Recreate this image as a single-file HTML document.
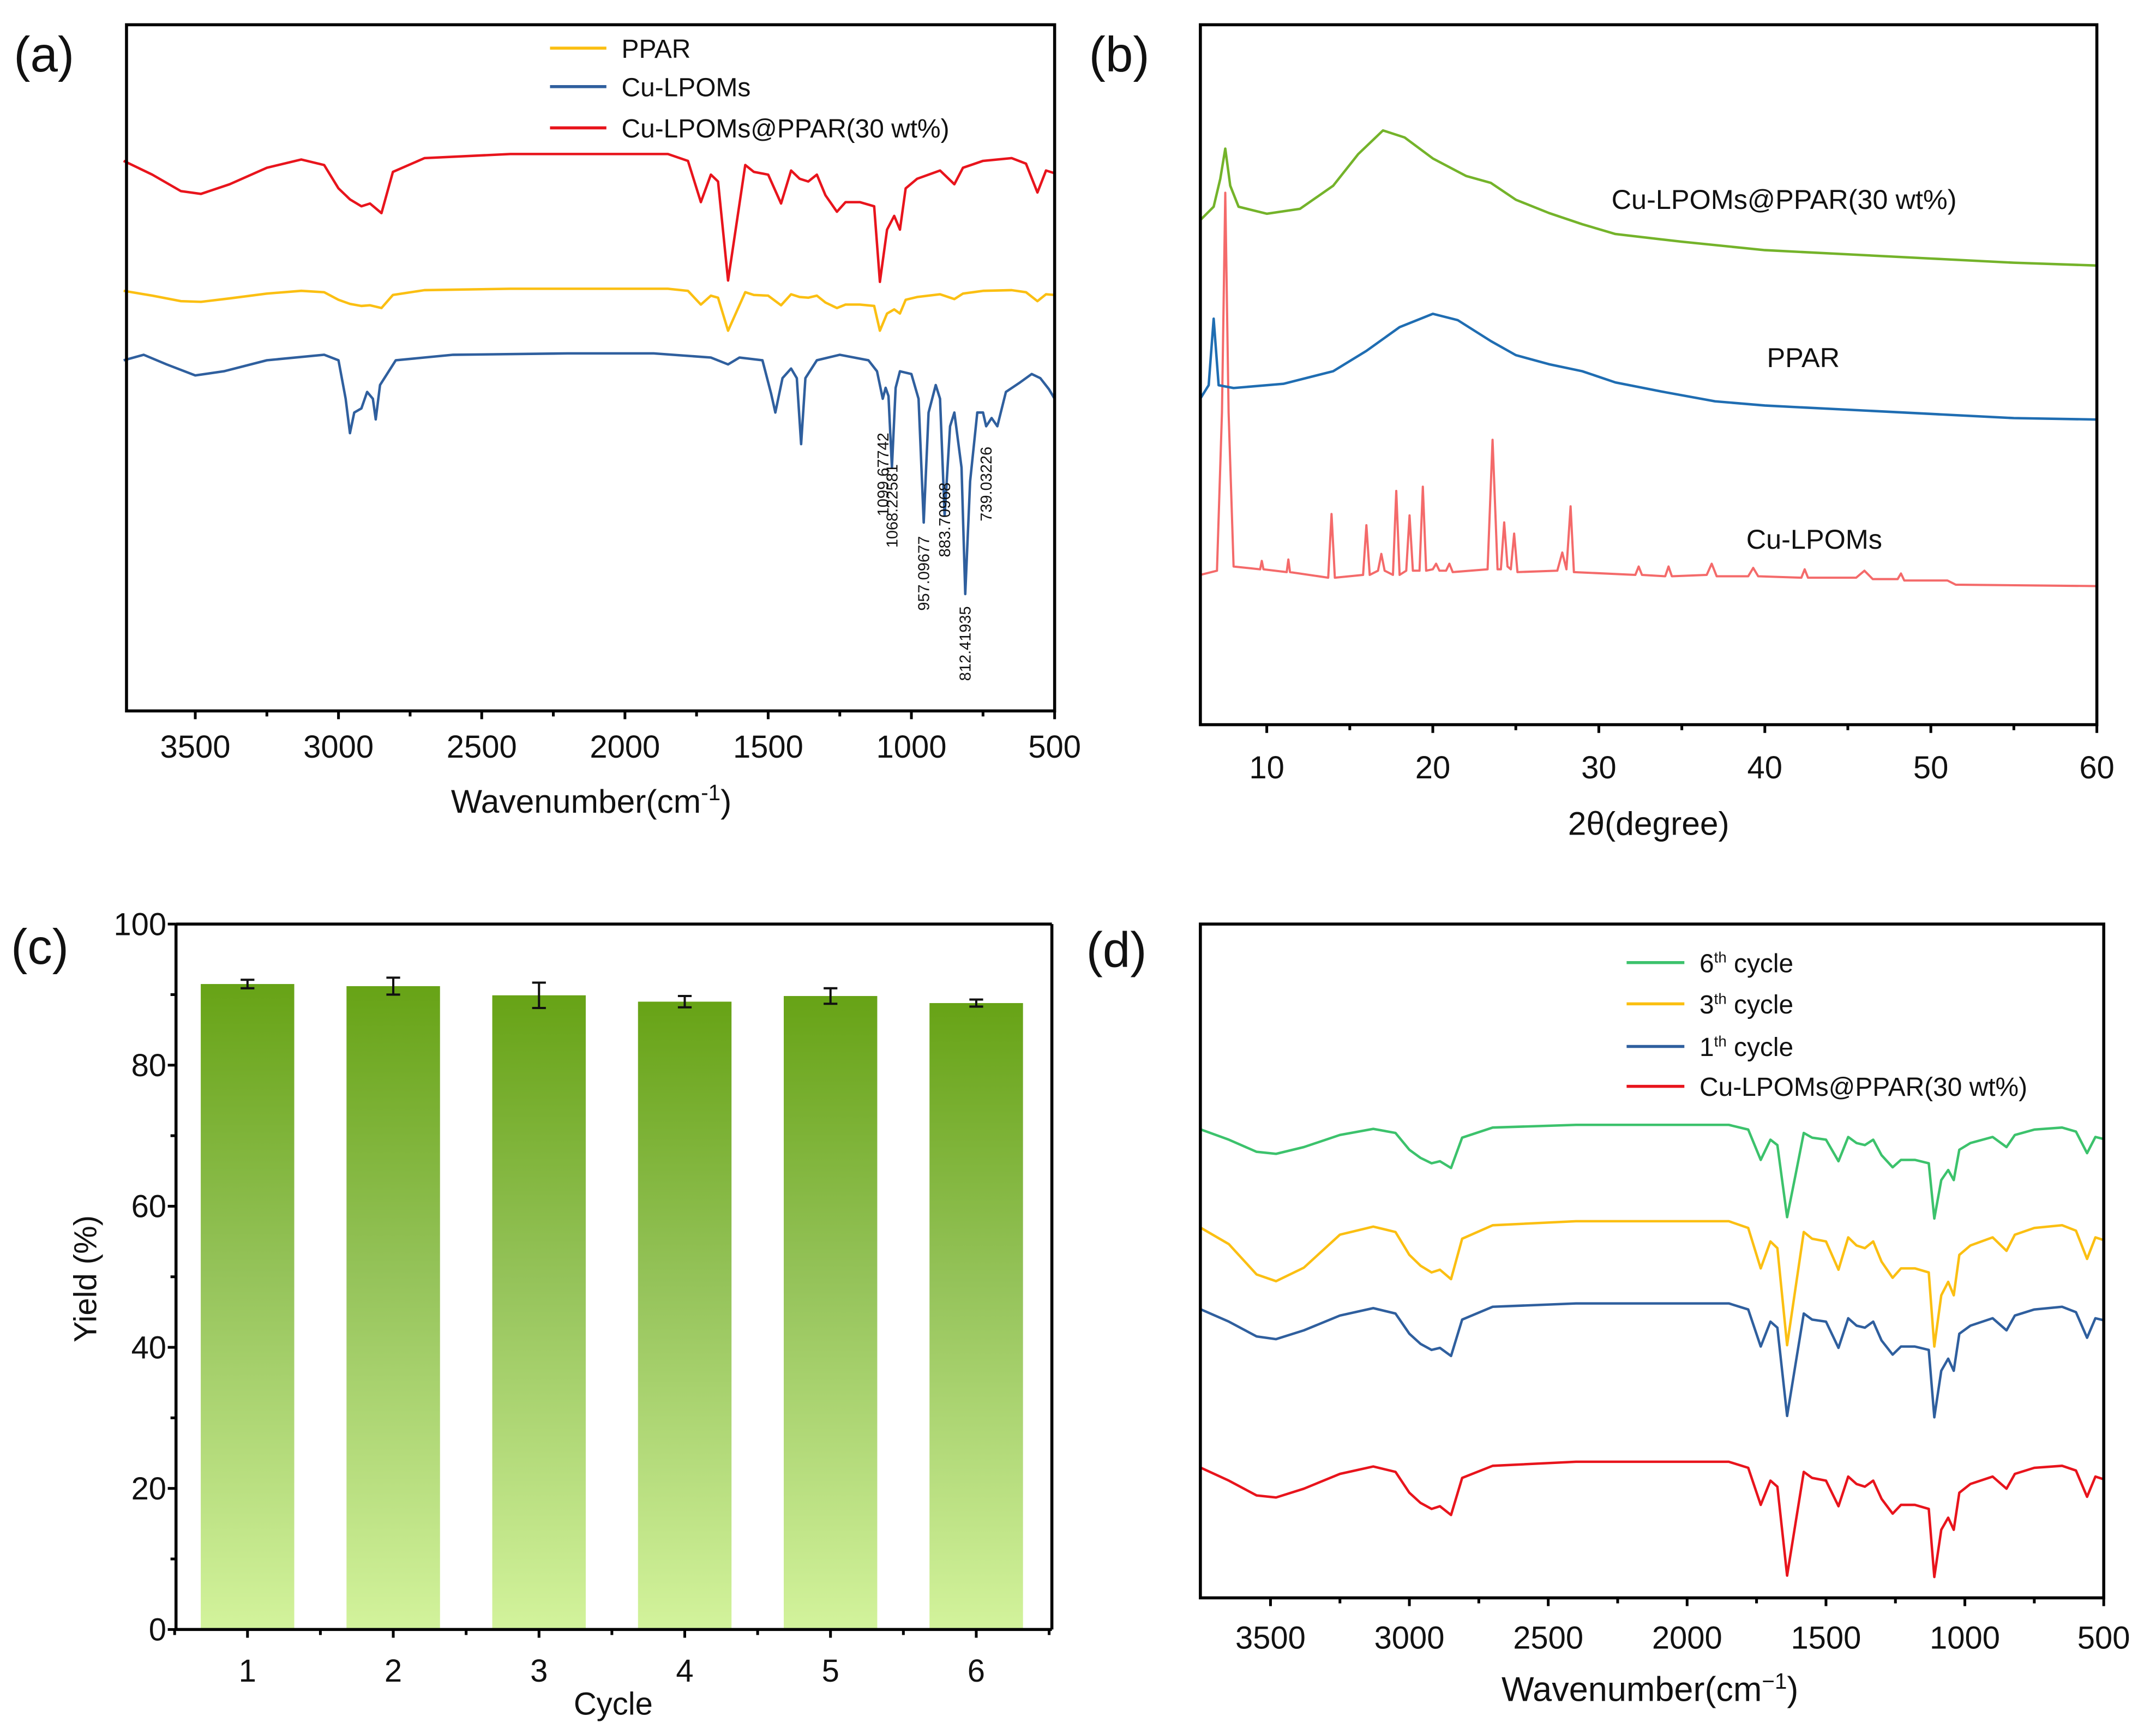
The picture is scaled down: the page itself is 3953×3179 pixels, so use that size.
<!DOCTYPE html>
<html><head><meta charset="utf-8"><style>
html,body{margin:0;padding:0;background:#fff;}
svg{display:block;font-family:"Liberation Sans",Arial,sans-serif;}
</style></head><body>
<svg id="fig" width="3953" height="3179" viewBox="0 0 1568 1261" xmlns="http://www.w3.org/2000/svg">
<rect x="0" y="0" width="1568" height="1261" fill="#fff"/>
<defs>
<linearGradient id="barGrad" x1="0" y1="0" x2="0" y2="1">
<stop offset="0" stop-color="#67a316"/><stop offset="0.45" stop-color="#95c35a"/><stop offset="1" stop-color="#d3f39c"/>
</linearGradient>
</defs>
</svg>
<script>
// ---------- Panel (a) data ----------
const irGrid = [3750,3650,3550,3480,3380,3250,3130,3050,3000,2960,2920,2890,2850,2810,2700,2400,2100,1850,1780,1735,1700,1675,1640,1610,1580,1550,1500,1455,1420,1390,1360,1330,1300,1260,1230,1180,1130,1110,1085,1060,1040,1020,980,900,850,820,750,650,600,560,530,500];
const aRedVals = [80,78,75.6,75.2,76.6,79,80.2,79.4,76,74.4,73.4,73.8,72.4,78.4,80.4,81,81,81,80,74,78,77,62.6,71,79.4,78.4,78,73.8,78.6,77.4,77,78,75,72.6,74,74,73.4,62.4,70,72,70,76,77.4,78.6,76.6,79,80,80.4,79.6,75.4,78.6,78.2];
const aYellowVals = [61.1,60.4,59.6,59.5,60,60.7,61.1,60.9,59.8,59.2,58.9,59,58.6,60.5,61.2,61.4,61.4,61.4,61.1,59.1,60.4,60.1,55.3,58.1,60.9,60.5,60.4,59,60.6,60.2,60.1,60.4,59.4,58.6,59.1,59.1,58.9,55.3,57.8,58.4,57.8,59.8,60.2,60.6,59.9,60.7,61.1,61.2,60.9,59.6,60.6,60.5];
const aBlueWn = [3750,3680,3600,3500,3400,3250,3050,3000,2975,2960,2945,2920,2900,2880,2870,2855,2800,2600,2200,1900,1700,1640,1600,1520,1490,1475,1450,1420,1400,1385,1370,1330,1250,1150,1120,1100,1090,1080,1068,1055,1040,1000,975,957,940,915,900,884,865,850,825,812,795,770,750,739,720,700,670,620,580,550,520,500];
const aBlueVals = [51,51.8,50.4,48.8,49.4,51,51.8,51,45.4,40.4,43.4,44,46.4,45.4,42.4,47.4,51,51.8,52,52,51.4,50.4,51.4,51,46.2,43.4,48.4,49.8,48.4,38.8,48.4,51,51.8,51,49.4,45.4,47,45.8,35.4,47,49.4,49,45.4,27.4,43.4,47.4,45.4,28.4,41.4,43.4,35.4,17,33.4,43.4,43.4,41.4,42.6,41.4,46.4,47.8,49,48.4,46.8,45.4];
const aAnnotWn = [1099.67742,1068.22581,957.09677,883.70968,812.41935,739.03226];
const aAnnotCenterVal = [34.4,29.8,20,27.8,9.8,33];
const aXTicks = [3500,3000,2500,2000,1500,1000,500];
// ---------- Panel (b) data ----------
const bGreenX = [6,6.8,7.2,7.5,7.8,8.3,10,12,14,15.5,17,18.3,20,22,23.5,25,27,29,31,35,40,45,50,55,60];
const bGreenV = [72.1,74,78,82.3,77,74,73,73.7,77,81.5,84.9,83.9,80.9,78.4,77.4,75,73.1,71.5,70.1,69,67.8,67.2,66.6,66,65.6];
const bBlueX = [6,6.5,6.8,7.1,8,11,14,16,18,20,21.5,23.5,25,27,29,31,34,37,40,45,50,55,60];
const bBlueV = [46.6,48.5,58,48.5,48.1,48.7,50.5,53.4,56.8,58.7,57.8,54.8,52.8,51.5,50.5,48.9,47.5,46.2,45.6,45,44.4,43.8,43.6];
const bRedX = [6,7.0,7.3,7.5,7.7,8,9.6,9.7,9.8,11.2,11.3,11.4,13.7,13.9,14.1,15.8,16,16.2,16.7,16.9,17.1,17.6,17.8,18,18.4,18.6,18.8,19.2,19.4,19.6,20,20.2,20.4,20.8,21,21.2,23.3,23.6,23.9,24.1,24.3,24.5,24.7,24.9,25.1,27.5,27.8,28.05,28.3,28.5,32.2,32.4,32.6,34,34.2,34.4,36.5,36.8,37.1,39,39.3,39.6,42.2,42.4,42.6,45.5,46,46.5,48,48.2,48.4,51,51.5,60];
const bRedV = [21.4,22,44.6,76,44.6,22.6,22.2,23.4,22.2,21.8,23.6,21.8,21,30.1,21,21.4,28.5,21.4,22,24.4,22,21.4,33.4,21.4,22,29.9,22,22,34,22,22.2,23,22,22,23,21.8,22.2,40.7,22.2,22.2,28.9,22.6,22.2,27.3,21.8,22,24.6,22.2,31.2,21.8,21.4,22.6,21.4,21.2,22.6,21.2,21.4,23,21.2,21.2,22.4,21.2,21,22.2,21,21,22,20.8,20.8,21.6,20.6,20.6,20,19.8];
const bXTicks = [10,20,30,40,50,60];
// ---------- Panel (c) data ----------
const cCycles = [1,2,3,4,5,6];
const cYield = [91.5,91.2,89.9,89.0,89.8,88.8];
const cErr = [0.6,1.2,1.8,0.8,1.1,0.5];
const cYTicks = [0,20,40,60,80,100];
// ---------- Panel (d) data ----------
const dGreenVals = [69.5,68,66.2,65.9,66.9,68.7,69.6,69,66.5,65.3,64.5,64.8,63.8,68.3,69.8,70.2,70.2,70.2,69.5,65,68,67.2,56.5,62.7,69,68.3,68,64.8,68.4,67.5,67.2,68,65.7,63.9,65,65,64.5,56.3,62,63.5,62,66.5,67.5,68.4,66.9,68.7,69.5,69.8,69.2,66,68.4,68.1];
const dYellowVals = [54.9,52.5,48,47,49,53.9,55.1,54.3,50.9,49.3,48.3,48.7,47.3,53.3,55.3,55.9,55.9,55.9,54.9,48.9,52.9,51.9,37.5,45.9,54.3,53.3,52.9,48.7,53.5,52.3,51.9,52.9,49.9,47.5,48.9,48.9,48.3,37.3,44.9,46.9,44.9,50.9,52.3,53.5,51.5,53.9,54.9,55.3,54.5,50.3,53.5,53.1];
const dBlueVals = [42.8,41,38.8,38.4,39.7,41.9,43,42.2,39.2,37.7,36.8,37.1,35.9,41.3,43.2,43.7,43.7,43.7,42.8,37.3,41,40.1,27,34.6,42.2,41.3,41,37.1,41.5,40.4,40.1,41,38.2,36.1,37.3,37.3,36.8,26.8,33.7,35.5,33.7,39.2,40.4,41.5,39.7,41.9,42.8,43.2,42.4,38.6,41.5,41.2];
const dRedVals = [19.3,17.4,15.2,14.9,16.2,18.4,19.5,18.7,15.6,14.1,13.2,13.6,12.3,17.8,19.6,20.2,20.2,20.2,19.3,13.8,17.4,16.5,3.3,11,18.7,17.8,17.4,13.6,18,16.9,16.5,17.4,14.7,12.5,13.8,13.8,13.2,3.1,10.1,11.9,10.1,15.6,16.9,18,16.2,18.4,19.3,19.6,18.9,15,18,17.6];
const dXTicks = [3500,3000,2500,2000,1500,1000,500];

const NS = "http://www.w3.org/2000/svg";
const svg = document.getElementById('fig');
function mk(tag, attrs, parent){const e=document.createElementNS(NS,tag);for(const k in attrs)e.setAttribute(k,attrs[k]);(parent||svg).appendChild(e);return e;}
function pathFrom(xs, vs, sx, sy){let d='';for(let i=0;i<xs.length;i++){d+=(i?'L':'M')+sx(xs[i]).toFixed(2)+','+sy(vs[i]).toFixed(2);}return d;}
function frame(x0,y0,x1,y1,name){const r=mk('rect',{x:x0,y:y0,width:x1-x0,height:y1-y0,fill:'none',stroke:'#000','stroke-width':2.2});


return r;}
function txt(x,y,s,size,anchor,name,extra){const t=mk('text',Object.assign({x:x,y:y,'font-size':size,'text-anchor':anchor||'start',fill:'#111'},extra||{}));t.textContent=s;


return t;}
function line(x1,y1,x2,y2,stroke,w,name){const l=mk('line',{x1:x1,y1:y1,x2:x2,y2:y2,stroke:stroke,'stroke-width':w});


return l;}
function series(xs,vs,sx,sy,color,name,w){const p=mk('path',{d:pathFrom(xs,vs,sx,sy),fill:'none',stroke:color,'stroke-width':w||1.8,'stroke-linejoin':'round'});


return p;}

// ================= Panel (a) =================
const aX0=92,aX1=767,aY0=18,aY1=517;
const ax = w => aX1 - (w-500)*(625/3000);
const ay = v => aY1 - v*5;
series(irGrid,aRedVals,ax,ay,'#e8141c','a-series-composite');
series(irGrid,aYellowVals,ax,ay,'#fbbf12','a-series-ppar');
series(aBlueWn,aBlueVals,ax,ay,'#2f5f9e','a-series-cu-lpoms');
frame(aX0,aY0,aX1,aY1,'a-plot-frame');
aXTicks.forEach(t=>{line(ax(t),aY1,ax(t),aY1+6,'#000',2,'a-x-tick');txt(ax(t),551,String(t),23,'middle','a-x-tick-label');});
aXTicks.slice(0,-1).forEach(t=>{line(ax(t-250),aY1,ax(t-250),aY1+4,'#000',2,'a-x-minor-tick');});
{const t=txt(430,591,'Wavenumber(cm',24,'middle','a-x-axis-title');const s=mk('tspan',{dy:-9,'font-size':16},t);s.textContent='-1';const s2=mk('tspan',{dy:9},t);s2.textContent=')';}
aAnnotWn.forEach((w,i)=>{const x=ax(w)+4,y=ay(aAnnotCenterVal[i]);const t=txt(x,y,w.toFixed(5),11.5,'middle','a-peak-annotation',{transform:'rotate(-90 '+x+' '+y+')'});});
txt(10,52,'(a)',36,'start','a-panel-label');
[['PPAR','#fbbf12',35],['Cu-LPOMs','#2f5f9e',63],['Cu-LPOMs@PPAR(30 wt%)','#e8141c',93]].forEach(([s,c,y])=>{line(400,y,441,y,c,2.2,'a-legend-swatch');txt(452,y+7,s,19,'start','a-legend-label');});

// ================= Panel (b) =================
const bX0=873,bX1=1525,bY0=18,bY1=527;
const bx = t => bX0 + (t-6)*(652/54);
const by = v => bY1 - v*5.09;
series(bRedX,bRedV,bx,by,'#f46a6a','b-series-cu-lpoms',1.6);
series(bBlueX,bBlueV,bx,by,'#1f6db2','b-series-ppar',1.8);
series(bGreenX,bGreenV,bx,by,'#74b32a','b-series-composite',1.8);
frame(bX0,bY0,bX1,bY1,'b-plot-frame');
bXTicks.forEach(t=>{line(bx(t),bY1,bx(t),bY1+6,'#000',2,'b-x-tick');txt(bx(t),566,String(t),23,'middle','b-x-tick-label');});
bXTicks.slice(1).forEach(t=>{line(bx(t-5),bY1,bx(t-5),bY1+4,'#000',2,'b-x-minor-tick');});
txt(1199,607,'2θ(degree)',24,'middle','b-x-axis-title');
txt(1172,152,'Cu-LPOMs@PPAR(30 wt%)',20,'start','b-label-composite');
txt(1285,267,'PPAR',20,'start','b-label-ppar');
txt(1270,399,'Cu-LPOMs',20,'start','b-label-cu-lpoms');
txt(792,52,'(b)',36,'start','b-panel-label');

// ================= Panel (c) =================
const cX0=128,cX1=765,cY0=672,cY1=1185;
const cx = i => 180 + (i-1)*106;
const cy = v => cY1 - v*5.13;
cCycles.forEach((c,i)=>{const r=mk('rect',{x:cx(c)-34,y:cy(cYield[i]),width:68,height:cy(0)-cy(cYield[i]),fill:'url(#barGrad)'});


const xm=cx(c),yt=cy(cYield[i]+cErr[i]),yb=cy(cYield[i]-cErr[i]);
line(xm,yt,xm,yb,'#111',1.6,'c-error-bar');line(xm-5,yt,xm+5,yt,'#111',1.6,'c-error-cap');line(xm-5,yb,xm+5,yb,'#111',1.6,'c-error-cap');});
line(cX0,cY0,cX0,cY1,'#000',2.2,'c-y-axis');line(cX0,cY1,cX1,cY1,'#000',2.2,'c-x-axis');line(cX0,cY0,cX1,cY0,'#000',2.2,'c-top-border');line(cX1,cY0,cX1,cY1,'#000',2.2,'c-right-border');
cYTicks.forEach(t=>{line(cX0-6,cy(t),cX0,cy(t),'#000',2,'c-y-tick');txt(cX0-7,cy(t)+8,String(t),23,'end','c-y-tick-label');});
cYTicks.slice(0,-1).forEach(t=>{line(cX0-4,cy(t+10),cX0,cy(t+10),'#000',2,'c-y-minor-tick');});
cCycles.forEach(c=>{line(cx(c),cY1,cx(c),cY1+6,'#000',2,'c-x-tick');txt(cx(c),1223,String(c),23,'middle','c-x-tick-label');});
[0,1,2,3,4,5,6].forEach(k=>{line(cx(1)-53+k*106,cY1,cx(1)-53+k*106,cY1+4,'#000',2,'c-x-minor-tick');});
txt(446,1247,'Cycle',23,'middle','c-x-axis-title');
txt(70,930,'Yield (%)',23,'middle','c-y-axis-title',{transform:'rotate(-90 70 930)'});
txt(8,701,'(c)',36,'start','c-panel-label');

// ================= Panel (d) =================
const dX0=873,dX1=1530,dY0=672,dY1=1162;
const dx = w => dX1 - (w-500)*(606/3000);
const dy = v => dY1 - v*4.9;
series(irGrid,dGreenVals,dx,dy,'#3cc26c','d-series-6th-cycle');
series(irGrid,dYellowVals,dx,dy,'#fbbf12','d-series-3rd-cycle');
series(irGrid,dBlueVals,dx,dy,'#2f5f9e','d-series-1st-cycle');
series(irGrid,dRedVals,dx,dy,'#e8141c','d-series-composite');
frame(dX0,dY0,dX1,dY1,'d-plot-frame');
dXTicks.forEach(t=>{line(dx(t),dY1,dx(t),dY1+6,'#000',2,'d-x-tick');txt(dx(t),1199,String(t),23,'middle','d-x-tick-label');});
dXTicks.slice(0,-1).forEach(t=>{line(dx(t-250),dY1,dx(t-250),dY1+4,'#000',2,'d-x-minor-tick');});
{const t=txt(1200,1237,'Wavenumber(cm',25,'middle','d-x-axis-title');const s=mk('tspan',{dy:-9,'font-size':16},t);s.textContent='−1';const s2=mk('tspan',{dy:9},t);s2.textContent=')';}
txt(790,703,'(d)',36,'start','d-panel-label');
[['6','th cycle','#3cc26c',700],['3','th cycle','#fbbf12',730],['1','th cycle','#2f5f9e',761]].forEach(([n,s,c,y])=>{line(1183,y,1225,y,c,2.2,'d-legend-swatch');const t=txt(1236,y+7,n,19,'start','d-legend-label');const sp=mk('tspan',{dy:-7,'font-size':11},t);sp.textContent='th';const sp2=mk('tspan',{dy:7},t);sp2.textContent=' cycle';});
line(1183,790,1225,790,'#e8141c',2.2,'d-legend-swatch');txt(1236,797,'Cu-LPOMs@PPAR(30 wt%)',19,'start','d-legend-label');
</script>
</body></html>
